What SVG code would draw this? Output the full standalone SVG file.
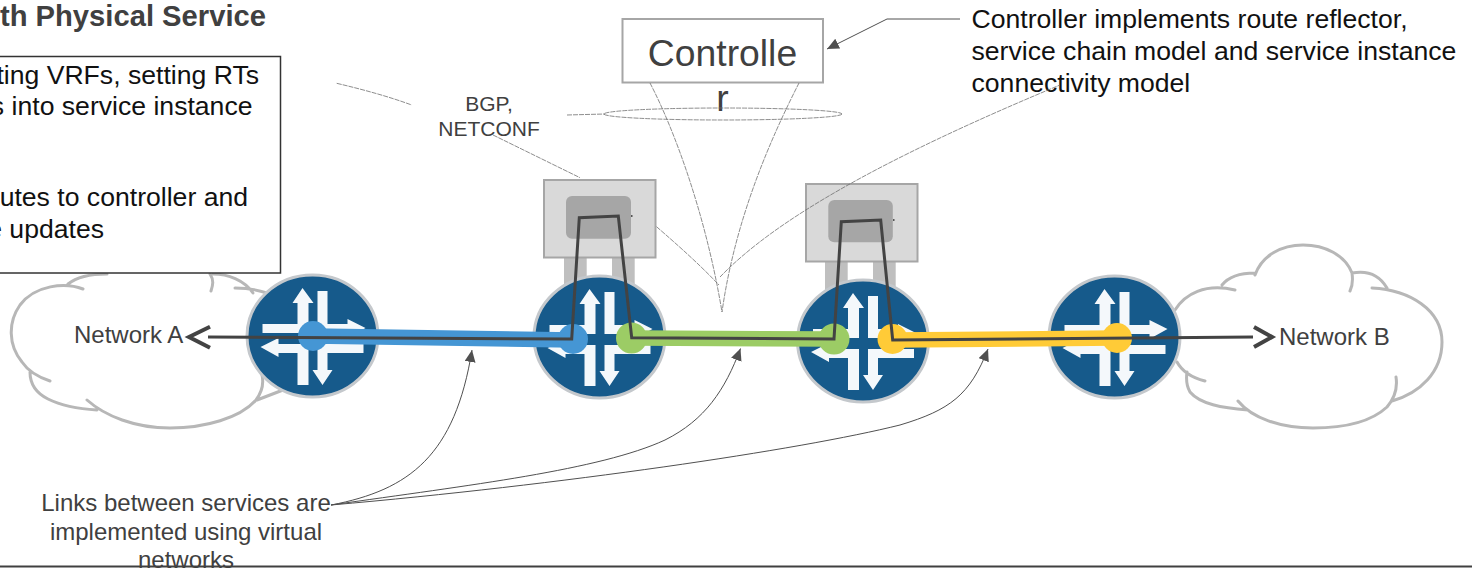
<svg xmlns="http://www.w3.org/2000/svg" width="1472" height="570" viewBox="0 0 1472 570">
<style>
text{font-family:"Liberation Sans",Arial,sans-serif;fill:#404040}
.dk{fill:#111}
.cloud{fill:none;stroke:#b7b7b7;stroke-width:3;stroke-linecap:round}
.svc{fill:#d9d9d9;stroke:#a6a6a6;stroke-width:2}
.inner{fill:#a6a6a6}
.leg{fill:#bfbfbf}
.thin{fill:none;stroke:#707070;stroke-width:.8;stroke-dasharray:5 1}
.call{fill:none;stroke:#505050;stroke-width:1}
.chain{fill:none;stroke:#434343;stroke-width:3;stroke-linejoin:miter}
.chev{fill:none;stroke:#434343;stroke-width:4}
</style>
<defs>
<marker id="ah" markerUnits="userSpaceOnUse" markerWidth="14" markerHeight="12" refX="12" refY="5.500" orient="auto"><path d="M0 0L12 5.500L0 11Z" fill="#505050"/></marker>
<g id="router">
<ellipse rx="65.500" ry="61" fill="#165a8b" stroke="#c4c8cc" stroke-width="3"/>
<path fill="#f4f8fb" d="M-50-12H-15V-33H-20L-10-48L1-33H-4V-3H-50ZM5-45H15V-12H35V-17L53-8L35 2V-3H5ZM-52 11L-34 2V8H-4V49H-15V17H-34V21ZM5 8H51V17H15V34H20L10 49L0 34H5Z"/>
</g>
</defs>

<g id="cloud-a">
<path class="cloud" d="M83 289C65 282 35 285 20 305C8 322 8 345 22 362C28 371 38 377 50 381M30 372C30 385 36 393 48 399C62 406 80 409 97 410M87 400C105 416 135 428 170 428C205 428 240 418 256 400C262 392 264 384 262 375M257 400L283 390M68 284C78 276 92 274 107 274M210 274C214 280 213 285 211 291M213 274C228 274 244 280 253 293M235 288C248 288 258 290 267 293"/>
<text x="74" y="343" font-size="24">Network A</text>
</g>
<g id="cloud-b">
<path class="cloud" d="M1175 310C1185 294 1205 283 1235 290M1222 285C1230 275 1242 273 1255 273M1255 275C1262 255 1282 245 1303 245C1325 245 1345 255 1352 273C1353 280 1353 285 1350 291M1352 273C1368 270 1380 276 1387 288M1372 288C1410 290 1442 310 1442 342C1442 372 1420 393 1392 401M1396 377C1398 390 1393 400 1387 407C1372 421 1345 428 1313 428C1280 428 1252 418 1238 401M1248 410C1222 408 1200 404 1190 392C1186 385 1186 379 1187 372M1177 362C1183 373 1193 378 1205 381"/>
<text x="1279" y="345" font-size="24">Network B</text>
</g>

<g id="title"><text x="266" y="26" font-size="29.200" font-weight="700" text-anchor="end">th Physical Service</text></g>

<g id="note-box">
<rect x="-10" y="56.500" width="290.500" height="216.500" fill="#fff" stroke="#333" stroke-width="1.500"/>
<g font-size="26.600" text-anchor="end">
<text class="dk" x="259" y="84">ting VRFs, setting RTs</text>
<text class="dk" x="252.500" y="115">s into service instance</text>
<text class="dk" x="248" y="206">utes to controller and</text>
<text class="dk" x="104" y="238">e updates</text>
</g>
</g>

<g id="controller">
<rect x="622.500" y="19" width="200.500" height="63.500" fill="#fff" stroke="#a6a6a6" stroke-width="2"/>
<text x="722.500" y="66" font-size="37.300" text-anchor="middle">Controlle</text>
<text x="722.500" y="111" font-size="37.300" text-anchor="middle">r</text>
</g>

<g id="bgp-label">
<text x="489" y="111" font-size="21" text-anchor="middle">BGP,</text>
<text x="489" y="136" font-size="21" text-anchor="middle">NETCONF</text>
</g>

<g id="controller-note" font-size="26.600">
<text class="dk" x="971.500" y="28">Controller implements route reflector,</text>
<text class="dk" x="971.500" y="60">service chain model and service instance</text>
<text class="dk" x="971.500" y="92">connectivity model</text>
</g>

<g id="service-1">
<rect class="leg" x="564" y="258" width="22.700" height="30"/>
<rect class="leg" x="612" y="258" width="22.700" height="30"/>
<rect class="svc" x="544" y="180" width="111.500" height="77.500"/>
<rect class="inner" x="566" y="196" width="65" height="42.700" rx="6"/>
<rect x="631" y="215" width="1.500" height="2" fill="#555"/>
</g>
<g id="service-2">
<rect class="leg" x="825" y="262" width="22.700" height="30"/>
<rect class="leg" x="873" y="262" width="22.700" height="30"/>
<rect class="svc" x="806" y="184" width="111.500" height="77.500"/>
<rect class="inner" x="828.300" y="200" width="64.500" height="42.300" rx="6"/>
<rect x="893" y="219" width="1.500" height="2" fill="#555"/>
</g>

<g id="router-1"><use href="#router" x="312.500" y="336"/></g>
<g id="router-2"><use href="#router" x="599.500" y="337"/></g>
<g id="router-3"><use href="#router" x="863" y="341"/></g>
<g id="router-4"><use href="#router" x="1114.500" y="337"/></g>

<g id="connectors">
<g fill="none" stroke-width="15.500" stroke-linecap="butt">
<path stroke="#4596d4" d="M313 336L573 340"/>
<path stroke="#9ccc65" d="M632 338L834 339"/>
<path stroke="#ffcb37" d="M893 340L1117 338"/>
</g>
<circle cx="313" cy="336" r="15" fill="#4596d4"/>
<circle cx="573" cy="339" r="15" fill="#4596d4"/>
<circle cx="631.500" cy="338" r="15.500" fill="#9ccc65"/>
<circle cx="834" cy="339" r="15.500" fill="#9ccc65"/>
<circle cx="892.500" cy="339" r="15" fill="#ffcb37"/>
<circle cx="1117" cy="338" r="15" fill="#ffcb37"/>
<path class="chain" d="M208 337L571.700 339L579.300 217.700L618.300 216L631.700 337.700L834 339L841.300 221.700L880.700 220L892.700 340L1253 337"/>
<path class="chev" d="M210 326.700L189 337L210 347.700"/>
<path class="chev" d="M1254 327L1272 337L1254 347"/>
<ellipse class="thin" cx="723" cy="114" rx="119" ry="6"/>
<path class="thin" d="M567 115L605 114"/>
<path class="thin" d="M650 83C672 125 705 210 722 312"/>
<path class="thin" d="M799 83C770 140 735 220 722 312"/>
<path class="thin" d="M656.500 226.700C680 247 700 265 719 285"/>
<path class="thin" d="M720 277C775 220 880 160 1060 85"/>
<path class="thin" d="M493 135L580 177.700"/>
<path class="thin" d="M336.700 83.300C365 90 390 97 411.700 105"/>
<path class="call" d="M960 19H887L827 49" marker-end="url(#ah)"/>
<path class="call" d="M331 505C410 490 455 455 472 350" marker-end="url(#ah)"/>
<path class="call" d="M331 505C470 485 600 470 665 440C705 420 725 390 740.500 348.500" marker-end="url(#ah)"/>
<path class="call" d="M331 505C560 485 800 450 900 425C950 410 970 395 988 349" marker-end="url(#ah)"/>
</g>

<g id="links-note">
<text x="186" y="511" font-size="24" text-anchor="middle">Links between services are</text>
<text x="186" y="540" font-size="24" text-anchor="middle">implemented using virtual</text>
<text x="186" y="568" font-size="24" text-anchor="middle">networks</text>
</g>
<path id="footer-rule" d="M0 566.500H1472" stroke="#404040" stroke-width="2" fill="none"/>
</svg>
